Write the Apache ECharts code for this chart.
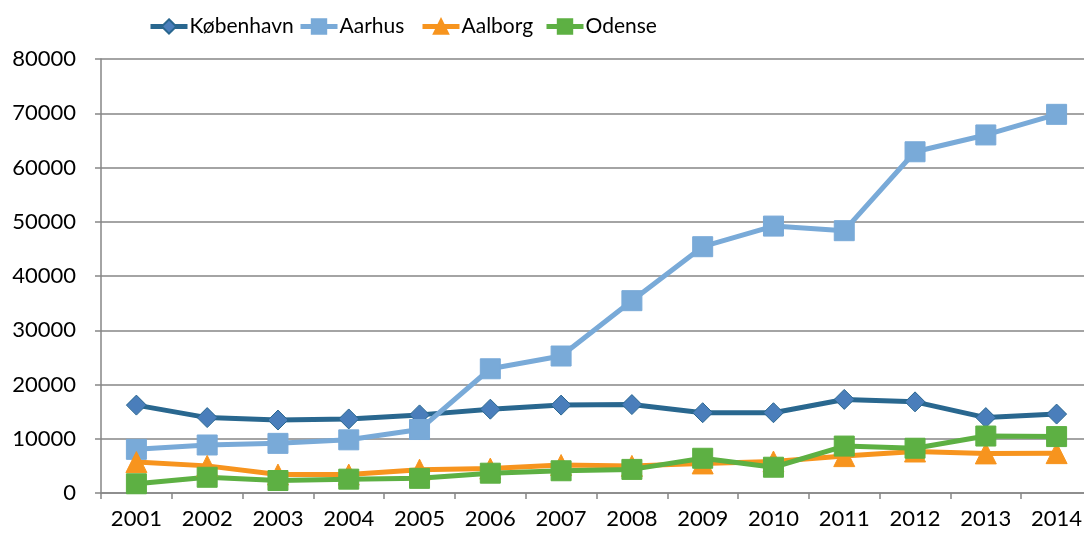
<!DOCTYPE html>
<html>
<head>
<meta charset="utf-8">
<style>
  html, body { margin: 0; padding: 0; background: #fff; overflow: hidden; }
  #main { width: 1092px; height: 538px; }
</style>
<script src="https://cdn.jsdelivr.net/npm/echarts@6/dist/echarts.min.js"></script>
</head>
<body>
<div id="main"></div>
<script>
var years = ["2001", "2002", "2003", "2004", "2005", "2006", "2007", "2008", "2009", "2010", "2011", "2012", "2013", "2014"];
var koebenhavn = [16200, 13900, 13450, 13650, 14400, 15450, 16200, 16300, 14800, 14800, 17250, 16800, 13900, 14550];
var aarhus = [8050, 8850, 9150, 9800, 11700, 22900, 25250, 35450, 45400, 49200, 48350, 62900, 66000, 69800];
var aalborg = [5700, 5000, 3400, 3400, 4300, 4500, 5150, 5000, 5450, 5800, 6800, 7650, 7300, 7350];
var odense = [1700, 2900, 2300, 2550, 2700, 3650, 4100, 4350, 6400, 4750, 8650, 8250, 10500, 10400];
var seriesNames = ["København", "Aarhus", "Aalborg", "Odense"];
var legendLeft = [143, 293, 415, 539];

var axisFont = "Lato, 'Open Sans', sans-serif";
var gridGray = "#868686";

function line(name, data, color, markerColor, symbol, size) {
  return {
    name: name,
    type: "line",
    data: data,
    symbol: symbol,
    symbolSize: size,
    lineStyle: { color: color, width: 5 },
    itemStyle: { color: markerColor, borderColor: color, borderWidth: 1 },
    emphasis: { disabled: true }
  };
}

// one legend per item so each one sits where it is in the original
var legends = seriesNames.map(function(n, i) {
  return {
    left: legendLeft[i],
    top: 11,
    itemWidth: 37,
    itemHeight: 18,
    lineStyle: { width: 5 },
    textStyle: { fontSize: 21, color: "#000", padding: [0, 0, 0, -3] },
    data: [n]
  };
});

// chart is a bit wider than the window, the last column gets cut off like in the original
var myChart = echarts.init(document.getElementById("main"));
myChart.setOption({
  animation: false,
  textStyle: { fontFamily: axisFont },
  legend: legends,
  grid: {
    left: 101,
    top: 59,
    right: 0,
    bottom: 45,
    containLabel: false
  },
  xAxis: {
    type: "category",
    data: years,
    boundaryGap: true,
    axisLine: { lineStyle: { color: gridGray, width: 1.5 } },
    axisTick: { show: true, length: 6, lineStyle: { color: gridGray, width: 1.5 } },
    axisLabel: { color: "#000", fontSize: 22, margin: 15 }
  },
  yAxis: {
    type: "value",
    min: 0,
    max: 80000,
    interval: 10000,
    axisLine: { show: true, lineStyle: { color: gridGray, width: 1.5 } },
    axisTick: { show: true, length: 6, lineStyle: { color: gridGray, width: 1.5 } },
    splitLine: { lineStyle: { color: gridGray, width: 1.5 } },
    axisLabel: {
      color: "#000",
      fontSize: 22,
      margin: 25,
      formatter: function(v) { return String(v); }
    }
  },
  series: [
    line("København", koebenhavn, "#29678f", "#4a7ebb", "diamond", 20),
    line("Aarhus", aarhus, "#79aad8", "#79aad8", "rect", 20),
    line("Aalborg", aalborg, "#f7941e", "#f7941e", "triangle", 21),
    line("Odense", odense, "#5db043", "#5db043", "rect", 20)
  ]
});
</script>
</body>
</html>
